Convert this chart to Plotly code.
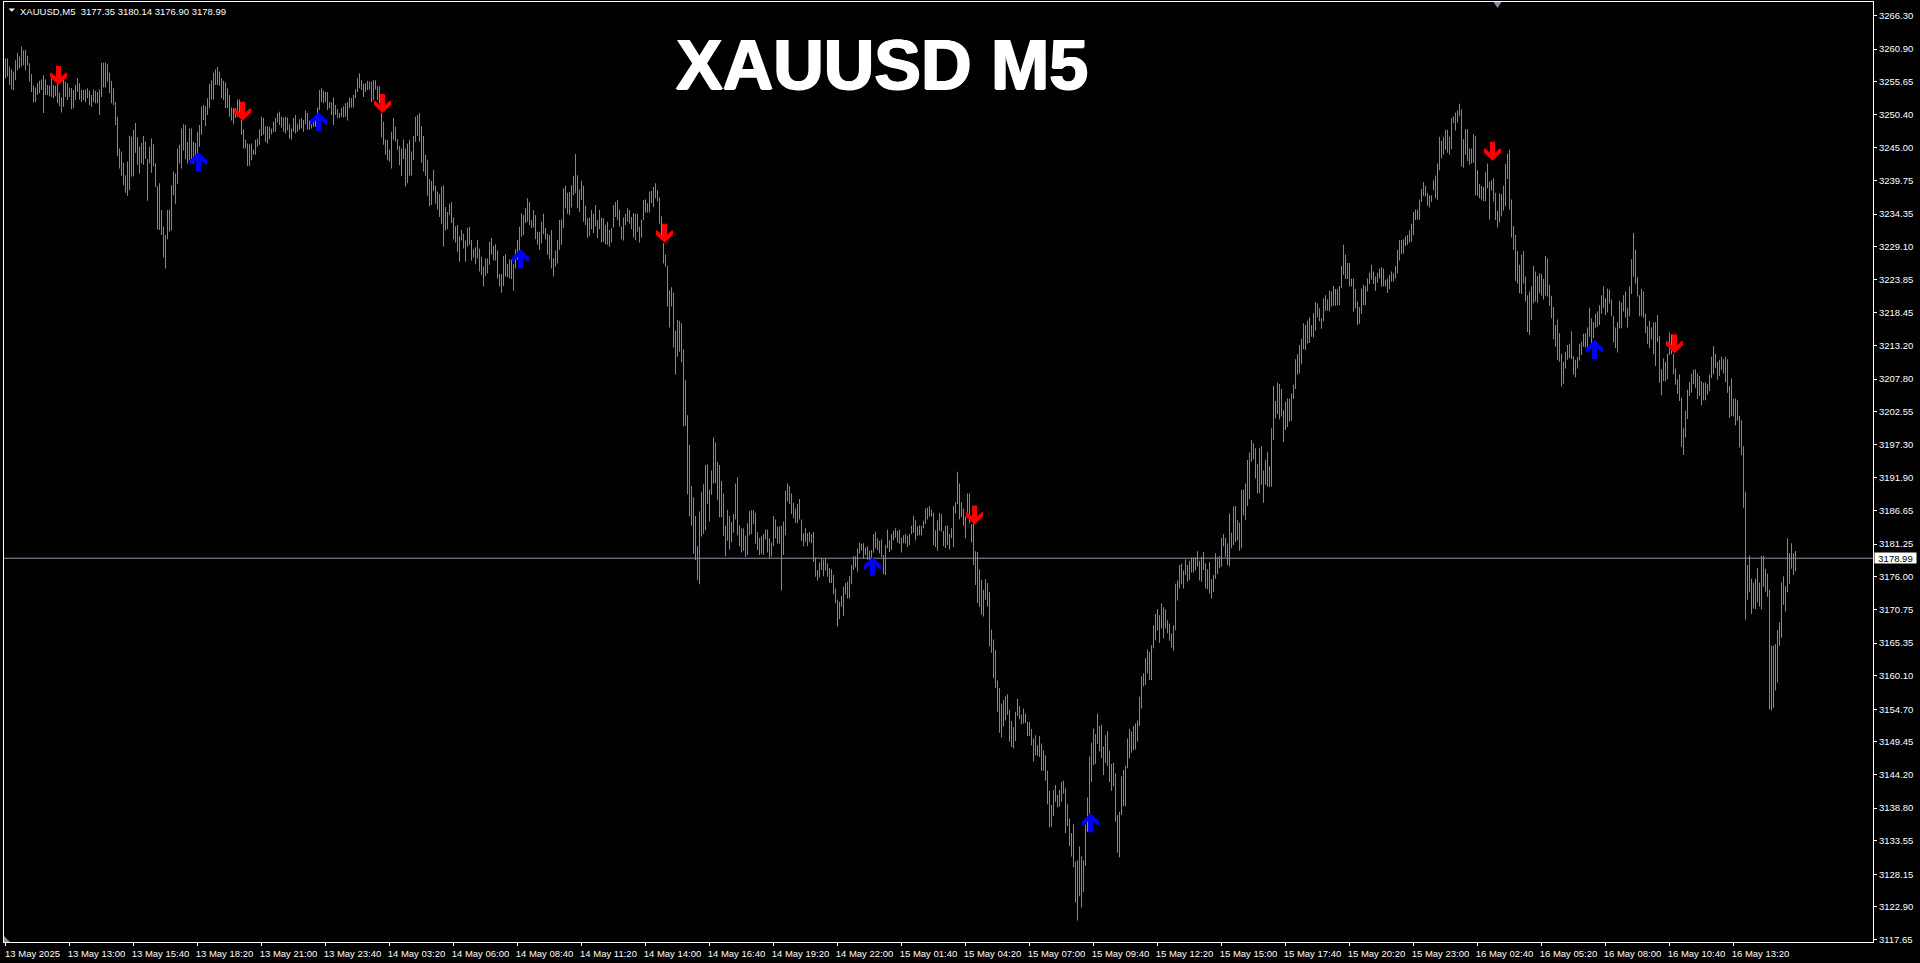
import numpy as np
import plotly.graph_objects as go

symbol_text = "XAUUSD,M5\u00a0\u00a03177.35 3180.14 3176.90 3178.99"
title_text = "XAUUSD M5"
last_price = 3178.99

bar_high = [
3259.4,3259.4,3258.1,3257.6,3257.3,3259.1,3260.3,3259.7,3261.3,3260.7,
3260.8,3259.8,3258.6,3256.9,3255.0,3254.7,3255.4,3255.8,3256.0,3256.7,
3256.0,3255.1,3255.0,3256.2,3255.1,3255.0,3255.9,3253.9,3253.1,3256.2,
3255.7,3255.4,3254.7,3254.6,3254.3,3255.1,3256.2,3255.4,3254.3,3254.3,
3254.4,3254.6,3254.2,3253.5,3254.4,3254.2,3254.0,3254.4,3258.7,3258.7,
3258.7,3258.5,3257.1,3255.8,3254.6,3252.4,3250.0,3244.9,3244.4,3242.6,
3240.6,3242.8,3246.9,3246.8,3247.9,3249.0,3246.7,3245.2,3245.8,3246.9,
3246.0,3243.2,3245.2,3246.5,3245.6,3242.5,3238.8,3239.3,3235.0,3232.3,
3231.0,3235.0,3235.1,3239.0,3241.2,3240.9,3244.9,3245.5,3248.1,3248.8,
3248.7,3246.0,3248.1,3248.1,3246.0,3245.8,3247.6,3248.7,3251.6,3251.9,
3251.7,3253.0,3255.3,3255.9,3257.1,3257.6,3258.0,3257.3,3256.2,3255.8,
3255.5,3254.6,3253.5,3251.5,3251.4,3251.4,3252.8,3252.8,3249.5,3248.0,
3246.3,3245.7,3245.6,3245.7,3244.7,3246.3,3246.5,3248.0,3250.0,3249.8,
3248.5,3248.5,3248.4,3248.1,3249.2,3249.8,3250.6,3250.8,3250.0,3249.9,
3250.0,3249.9,3248.8,3248.1,3249.8,3250.3,3248.8,3249.6,3249.8,3249.5,
3251.0,3250.6,3249.4,3249.2,3249.6,3250.3,3251.5,3254.3,3254.6,3254.2,
3254.0,3254.0,3252.4,3252.3,3253.1,3251.9,3251.2,3250.6,3251.4,3251.7,
3252.2,3252.4,3253.1,3253.0,3253.5,3254.4,3256.2,3257.0,3255.9,3255.3,
3255.4,3255.8,3255.7,3255.7,3255.9,3255.9,3255.0,3254.9,3250.6,3249.2,
3246.3,3246.3,3244.7,3247.6,3249.8,3248.4,3246.4,3245.3,3244.9,3246.3,
3244.9,3245.7,3246.3,3244.4,3246.9,3250.0,3250.3,3250.6,3248.5,3246.9,
3243.9,3243.1,3240.0,3239.7,3241.5,3238.9,3238.0,3237.6,3238.8,3239.0,
3235.5,3234.7,3236.0,3236.3,3233.8,3232.4,3232.6,3230.8,3231.8,3231.2,
3230.1,3232.1,3232.3,3230.2,3228.7,3229.0,3230.2,3228.8,3227.5,3225.9,
3227.2,3227.2,3229.9,3230.5,3229.2,3229.5,3228.5,3224.7,3224.7,3227.6,
3227.9,3226.3,3227.1,3227.0,3226.3,3228.7,3230.2,3232.3,3234.5,3234.2,
3235.3,3236.9,3236.3,3233.4,3235.0,3234.2,3231.5,3231.5,3233.1,3234.4,
3232.1,3231.2,3231.0,3231.8,3227.2,3228.5,3230.2,3233.4,3233.5,3238.5,
3238.9,3237.8,3237.9,3239.0,3240.5,3244.0,3240.6,3238.3,3239.7,3238.9,
3235.7,3233.7,3233.8,3235.0,3234.4,3235.8,3233.4,3235.0,3233.8,3233.7,
3232.6,3233.1,3231.8,3232.1,3235.8,3236.3,3236.6,3235.1,3232.3,3233.8,
3234.4,3235.3,3235.0,3233.9,3234.5,3234.4,3234.4,3232.3,3233.5,3236.6,
3236.7,3236.1,3238.0,3238.1,3238.7,3239.3,3238.2,3237.0,3234.0,3229.7,
3227.8,3226.0,3222.1,3222.6,3221.7,3215.6,3217.3,3217.2,3216.8,3212.6,
3207.6,3202.0,3197.2,3190.6,3188.8,3185.8,3180.9,3186.5,3189.6,3190.9,
3194.0,3194.1,3190.0,3193.1,3198.4,3197.6,3194.5,3194.0,3191.4,3189.4,
3184.2,3186.8,3185.8,3184.8,3186.1,3191.0,3192.0,3184.3,3183.8,3183.8,
3182.6,3184.6,3186.6,3186.7,3186.7,3186.3,3183.2,3182.3,3182.5,3182.9,
3183.6,3183.6,3182.2,3181.5,3185.8,3185.2,3184.1,3184.1,3184.2,3184.9,
3189.9,3191.0,3190.6,3189.4,3187.9,3187.0,3187.7,3188.5,3185.2,3183.0,
3183.8,3183.0,3183.2,3182.9,3183.2,3179.1,3177.1,3178.3,3179.0,3178.8,
3179.0,3178.2,3177.4,3177.2,3176.3,3174.1,3172.3,3172.0,3172.9,3174.4,
3175.0,3175.2,3176.1,3177.9,3179.3,3179.3,3180.6,3181.5,3181.3,3181.4,
3180.7,3180.9,3180.2,3180.3,3182.9,3183.2,3182.2,3181.8,3182.0,3179.5,
3181.1,3183.6,3181.9,3182.9,3183.4,3183.8,3183.4,3183.6,3182.3,3182.7,
3182.9,3182.6,3182.9,3184.2,3185.8,3185.1,3184.1,3184.3,3184.2,3185.0,
3187.0,3187.1,3187.4,3186.8,3186.3,3183.5,3185.1,3186.3,3186.1,3183.4,
3184.2,3184.3,3182.9,3183.8,3187.4,3188.0,3192.9,3191.0,3188.0,3187.0,
3185.7,3189.4,3189.4,3184.5,3184.6,3180.1,3180.0,3177.2,3175.5,3173.9,
3175.6,3175.0,3173.6,3167.5,3165.9,3164.2,3159.3,3158.1,3155.6,3156.2,
3156.8,3157.1,3154.6,3152.8,3151.8,3154.3,3156.4,3155.2,3153.8,3154.8,
3154.0,3152.7,3152.7,3151.5,3150.0,3150.5,3148.9,3150.4,3149.2,3148.1,
3147.3,3144.8,3141.6,3139.3,3141.7,3142.5,3140.9,3141.7,3143.0,3143.2,
3142.0,3139.4,3137.1,3134.8,3136.2,3130.2,3130.4,3132.6,3131.0,3130.4,
3136.1,3140.5,3147.1,3149.3,3151.6,3150.7,3154.0,3152.0,3152.2,3148.7,
3150.5,3151.2,3148.0,3145.9,3146.1,3144.4,3137.7,3138.2,3143.9,3144.9,
3145.6,3150.0,3151.5,3151.1,3152.0,3152.4,3152.9,3156.7,3160.0,3160.5,
3162.9,3164.3,3163.9,3165.0,3168.2,3170.0,3170.8,3169.8,3171.7,3171.1,
3170.8,3169.0,3168.5,3166.9,3168.2,3174.9,3175.4,3177.9,3178.1,3177.0,
3178.8,3177.9,3178.6,3179.1,3179.1,3179.2,3180.1,3178.6,3179.2,3180.0,
3178.2,3177.2,3178.4,3175.6,3176.3,3179.8,3179.1,3179.3,3182.3,3182.9,
3182.3,3181.4,3186.2,3183.1,3187.3,3187.4,3185.1,3184.7,3190.0,3190.0,
3191.0,3194.8,3196.0,3198.0,3197.5,3196.7,3194.2,3196.7,3197.0,3193.1,
3194.8,3196.1,3193.8,3199.9,3206.7,3204.3,3207.2,3207.0,3206.2,3202.8,
3204.2,3204.7,3204.7,3205.5,3206.9,3211.0,3211.8,3213.3,3214.3,3216.8,
3216.5,3217.2,3217.7,3216.5,3218.4,3220.2,3220.0,3219.2,3217.6,3220.8,
3221.3,3220.6,3222.0,3221.9,3222.8,3222.3,3222.3,3222.8,3226.0,3229.4,
3227.8,3226.5,3226.5,3224.0,3224.0,3222.3,3220.3,3219.4,3222.4,3223.0,
3222.8,3224.0,3224.9,3226.2,3225.1,3224.3,3224.9,3225.6,3225.8,3225.6,
3223.8,3224.0,3224.6,3225.1,3224.8,3226.0,3228.6,3230.2,3230.2,3230.3,
3230.8,3231.0,3231.7,3232.8,3234.7,3235.1,3235.1,3236.7,3238.4,3239.5,
3238.9,3237.8,3237.4,3237.4,3239.8,3240.5,3242.5,3246.8,3246.2,3246.8,
3247.9,3247.9,3246.8,3249.8,3250.1,3250.7,3251.0,3252.1,3251.2,3246.4,
3248.0,3248.0,3244.9,3244.9,3247.2,3246.9,3241.4,3239.2,3238.9,3238.7,
3241.1,3242.5,3239.6,3239.8,3240.1,3237.8,3234.9,3237.7,3237.6,3238.9,
3242.4,3244.1,3244.7,3236.7,3232.4,3231.0,3228.4,3226.2,3227.8,3228.4,
3224.3,3221.3,3221.9,3222.7,3226.0,3225.1,3224.4,3224.8,3224.7,3223.9,
3227.6,3227.2,3223.0,3221.2,3219.4,3216.5,3217.4,3215.2,3211.9,3210.6,
3212.2,3213.3,3213.5,3215.5,3211.5,3210.9,3211.4,3213.5,3213.8,3215.1,
3215.2,3216.1,3219.3,3217.6,3217.0,3218.3,3218.7,3219.7,3221.3,3222.7,
3220.8,3222.4,3222.2,3220.6,3217.9,3216.1,3217.0,3220.4,3220.1,3221.3,
3221.9,3219.2,3222.7,3227.1,3231.3,3228.6,3224.2,3221.3,3222.3,3221.9,
3218.3,3216.3,3217.2,3216.1,3216.9,3217.0,3218.1,3214.7,3209.4,3211.1,
3210.6,3211.9,3215.3,3215.0,3211.9,3209.5,3207.8,3208.6,3204.8,3199.9,
3202.7,3206.1,3207.3,3208.7,3209.3,3209.4,3208.7,3208.3,3207.5,3207.2,
3207.3,3207.0,3208.5,3211.4,3213.1,3211.9,3210.6,3210.9,3211.4,3211.0,
3211.4,3211.0,3206.7,3207.9,3204.6,3204.7,3204.4,3201.9,3201.2,3197.0,
3189.7,3177.9,3179.4,3175.7,3175.0,3175.7,3177.4,3175.1,3179.4,3179.4,
3177.3,3176.5,3173.9,3164.9,3164.9,3165.2,3167.4,3168.7,3175.1,3176.1,
3174.5,3182.2,3179.8,3181.4,3179.8,3180.14,
]

bar_low = [
3256.2,3256.5,3255.1,3254.4,3254.3,3255.9,3257.5,3257.8,3258.1,3258.3,
3257.5,3258.3,3255.7,3254.0,3252.3,3252.4,3253.5,3253.8,3254.3,3250.6,
3253.5,3253.5,3253.3,3253.2,3253.0,3253.3,3252.2,3251.7,3250.7,3251.6,
3253.2,3252.7,3253.2,3251.2,3251.4,3252.7,3254.0,3252.8,3252.4,3252.7,
3252.4,3253.0,3251.9,3251.6,3252.4,3252.2,3252.2,3250.3,3253.2,3254.7,
3254.7,3255.7,3253.8,3252.2,3251.9,3248.7,3243.7,3241.7,3240.5,3239.0,
3237.8,3237.3,3238.2,3240.4,3240.4,3244.2,3242.3,3240.9,3242.5,3242.3,
3243.2,3236.5,3242.5,3241.0,3242.0,3238.7,3231.9,3231.8,3231.0,3227.4,
3225.6,3230.3,3231.5,3231.7,3237.4,3236.0,3239.2,3242.5,3241.7,3244.6,
3243.2,3242.5,3243.0,3242.5,3242.5,3243.6,3244.1,3245.2,3247.1,3249.5,
3248.5,3250.3,3251.4,3252.8,3252.8,3255.1,3255.1,3255.0,3253.0,3252.7,
3251.4,3251.4,3250.0,3249.4,3248.8,3249.8,3250.0,3250.3,3247.1,3244.9,
3244.9,3242.1,3242.1,3243.0,3243.9,3243.9,3245.2,3245.5,3246.9,3247.1,
3246.0,3245.7,3246.4,3247.2,3247.5,3247.6,3249.1,3248.7,3248.3,3247.6,
3247.3,3247.8,3246.5,3246.3,3247.6,3247.3,3247.6,3247.9,3248.1,3247.6,
3248.8,3247.9,3247.9,3248.1,3248.4,3248.4,3248.1,3251.1,3252.4,3252.2,
3252.4,3251.1,3251.4,3250.3,3248.7,3250.3,3249.8,3249.8,3250.0,3249.9,
3250.0,3249.4,3251.4,3251.5,3251.5,3253.0,3254.0,3254.6,3254.3,3253.2,
3254.0,3254.3,3254.4,3252.4,3252.7,3254.4,3252.7,3252.2,3246.7,3245.5,
3243.9,3243.0,3242.8,3241.7,3246.3,3246.0,3244.7,3242.2,3240.5,3243.2,
3238.8,3239.3,3240.5,3240.5,3243.1,3246.0,3246.9,3246.0,3242.6,3241.2,
3240.5,3237.3,3235.6,3235.8,3238.1,3236.0,3235.1,3233.9,3232.8,3229.1,
3231.7,3231.9,3234.2,3232.9,3230.3,3229.8,3228.3,3226.7,3230.1,3228.8,
3226.7,3229.1,3229.4,3226.9,3227.4,3226.3,3227.2,3225.1,3224.6,3222.7,
3224.4,3224.8,3226.2,3227.8,3226.9,3226.9,3224.0,3222.7,3221.7,3222.8,
3224.3,3224.2,3224.0,3223.9,3222.0,3225.6,3227.0,3228.3,3230.7,3231.0,
3232.9,3233.1,3232.6,3232.1,3232.2,3230.3,3229.4,3228.6,3229.6,3231.1,
3230.3,3227.8,3227.1,3225.6,3224.3,3225.9,3226.4,3228.6,3229.4,3232.1,
3235.3,3234.4,3234.2,3235.4,3237.4,3237.7,3235.3,3234.7,3236.6,3233.1,
3232.6,3230.5,3230.8,3231.9,3231.3,3232.4,3230.5,3231.9,3229.8,3229.9,
3229.5,3229.4,3229.1,3229.8,3232.2,3233.9,3233.4,3232.3,3230.3,3230.1,
3232.6,3233.1,3232.8,3231.9,3230.6,3230.2,3231.5,3229.8,3230.6,3233.4,
3234.6,3234.6,3234.6,3236.1,3235.5,3236.9,3236.4,3232.8,3231.0,3226.4,
3225.9,3219.5,3216.1,3219.5,3212.9,3208.5,3211.4,3212.2,3210.5,3200.2,
3200.3,3189.3,3185.7,3184.2,3179.7,3178.7,3175.5,3174.8,3182.5,3182.9,
3183.5,3187.7,3184.9,3189.2,3191.0,3191.1,3188.4,3185.6,3185.6,3182.6,
3179.3,3181.8,3180.4,3181.5,3183.1,3185.2,3182.7,3180.9,3179.9,3180.2,
3179.2,3179.5,3182.7,3182.9,3184.5,3181.3,3180.3,3179.5,3179.7,3179.5,
3182.0,3179.9,3179.0,3179.3,3180.9,3182.2,3181.4,3181.3,3173.8,3179.5,
3182.7,3188.1,3187.7,3186.1,3185.4,3184.7,3184.6,3185.2,3181.8,3180.9,
3181.6,3180.9,3181.6,3181.4,3178.4,3176.0,3175.4,3175.9,3177.1,3176.1,
3177.0,3176.0,3175.0,3175.0,3173.2,3171.8,3168.0,3169.2,3171.2,3169.7,
3173.2,3172.5,3172.5,3174.8,3177.1,3177.5,3176.8,3179.7,3180.2,3179.0,
3179.5,3178.8,3178.2,3178.7,3179.9,3180.6,3180.3,3179.8,3179.2,3176.4,
3176.3,3180.6,3180.0,3180.3,3181.9,3182.3,3181.5,3181.3,3179.9,3181.4,
3181.4,3180.8,3181.1,3182.9,3183.1,3181.9,3182.6,3182.7,3182.7,3183.8,
3184.5,3185.2,3185.7,3185.7,3181.1,3180.8,3180.2,3183.4,3183.3,3180.9,
3180.6,3181.1,3180.4,3182.2,3180.8,3186.2,3187.7,3185.2,3185.6,3184.2,
3182.2,3185.4,3184.6,3181.5,3177.9,3174.7,3171.8,3171.2,3169.9,3169.6,
3172.3,3171.2,3164.8,3163.8,3159.7,3158.1,3154.3,3150.9,3150.2,3151.9,
3152.9,3153.8,3149.5,3148.6,3148.4,3149.6,3153.6,3153.1,3152.3,3152.4,
3152.5,3150.4,3150.4,3148.9,3146.3,3147.3,3147.2,3147.0,3144.8,3144.8,
3143.2,3139.4,3135.7,3135.8,3137.5,3139.8,3138.9,3139.0,3139.8,3141.1,
3134.8,3135.9,3132.7,3131.0,3129.3,3123.6,3120.7,3124.6,3122.8,3125.3,
3129.5,3135.0,3137.9,3143.0,3145.7,3145.9,3149.1,3147.9,3146.8,3144.1,
3146.1,3145.6,3143.0,3141.6,3142.3,3136.6,3131.6,3130.9,3137.7,3139.1,
3139.1,3145.2,3146.8,3147.7,3148.1,3148.2,3149.5,3152.0,3154.8,3158.4,
3158.6,3160.5,3159.4,3159.4,3164.5,3165.8,3167.4,3165.4,3167.7,3166.1,
3167.7,3166.9,3165.7,3164.6,3164.1,3167.4,3172.2,3174.1,3174.8,3174.1,
3176.3,3175.2,3175.5,3176.7,3176.7,3177.0,3177.6,3175.4,3175.2,3177.1,
3174.1,3174.0,3173.3,3172.5,3173.6,3175.7,3176.4,3177.4,3177.6,3180.9,
3179.2,3177.9,3177.7,3180.6,3181.1,3181.6,3181.9,3180.2,3180.6,3185.9,
3185.1,3187.4,3188.5,3194.5,3194.9,3191.8,3189.4,3189.5,3190.8,3187.9,
3190.8,3190.5,3190.5,3190.5,3198.0,3201.5,3202.2,3201.3,3201.8,3197.7,
3199.6,3200.1,3201.0,3201.1,3204.6,3206.2,3208.5,3208.7,3210.2,3212.6,
3212.5,3213.5,3213.6,3214.6,3214.5,3215.6,3217.7,3217.1,3215.9,3217.1,
3218.8,3218.8,3218.7,3219.5,3219.6,3219.6,3219.7,3219.7,3222.5,3224.6,
3223.9,3223.9,3222.7,3222.7,3218.7,3219.2,3216.5,3216.7,3218.3,3219.7,
3219.7,3221.9,3223.1,3223.8,3223.1,3222.0,3223.3,3224.0,3222.7,3222.7,
3222.7,3221.7,3222.3,3223.5,3223.5,3224.0,3224.8,3226.9,3227.9,3228.0,
3229.2,3229.4,3229.8,3229.9,3231.0,3233.4,3233.5,3233.4,3236.3,3237.3,
3237.2,3235.7,3235.4,3236.3,3238.2,3236.9,3236.6,3241.4,3243.3,3243.9,
3244.7,3244.2,3243.9,3244.8,3249.0,3247.8,3249.1,3250.1,3242.0,3241.8,
3243.9,3242.9,3242.3,3242.5,3242.6,3237.4,3237.3,3236.9,3236.7,3236.4,
3236.4,3238.5,3233.5,3238.1,3236.4,3233.4,3232.2,3233.0,3234.0,3234.9,
3235.6,3240.0,3235.1,3230.6,3228.6,3223.6,3223.2,3221.6,3221.5,3223.2,
3220.3,3215.4,3214.9,3217.3,3220.0,3220.3,3220.1,3221.6,3221.2,3220.6,
3221.2,3221.1,3219.6,3217.6,3214.2,3213.0,3210.9,3210.6,3206.6,3207.0,
3209.5,3210.9,3211.2,3211.0,3208.5,3208.1,3209.5,3210.8,3211.7,3213.0,
3212.9,3212.5,3214.6,3213.1,3214.4,3216.1,3216.2,3216.5,3218.3,3219.2,
3218.1,3218.5,3220.0,3217.9,3213.7,3212.8,3212.1,3216.0,3216.0,3218.7,
3217.7,3216.1,3217.9,3221.5,3224.3,3223.2,3221.1,3217.9,3217.9,3217.7,
3215.2,3213.5,3212.8,3214.2,3211.8,3209.9,3213.8,3207.2,3205.2,3207.5,
3207.4,3207.8,3211.7,3211.8,3208.6,3206.9,3205.4,3204.3,3196.9,3195.6,
3198.4,3201.4,3205.1,3205.6,3207.0,3206.4,3204.6,3205.1,3203.6,3204.4,
3204.4,3205.3,3205.9,3208.0,3208.6,3209.6,3207.7,3208.3,3209.3,3208.7,
3207.3,3205.6,3201.6,3201.9,3201.8,3200.4,3201.1,3196.8,3195.6,3187.1,
3169.1,3172.3,3173.5,3170.0,3170.9,3170.8,3171.9,3171.2,3170.8,3174.4,
3173.6,3172.8,3154.7,3154.5,3154.9,3157.7,3159.0,3164.9,3166.2,3171.5,
3170.4,3173.5,3174.9,3177.3,3176.3,3176.90,
]

sell_bar = [26, 118, 188, 329, 484, 743, 834]
sell_price = [3255.12, 3249.38, 3250.6, 3229.75, 3184.4, 3242.94, 3211.96]
buy_bar = [96, 156, 257, 433, 542, 794]
buy_price = [3244.29, 3250.72, 3228.69, 3179.2, 3137.95, 3214.1]

price_ticks = [3266.30,3260.90,3255.65,3250.40,3245.00,3239.75,3234.35,3229.10,3223.85,3218.45,
               3213.20,3207.80,3202.55,3197.30,3191.90,3186.65,3181.25,3176.00,3170.75,3165.35,
               3160.10,3154.70,3149.45,3144.20,3138.80,3133.55,3128.15,3122.90,3117.65]
time_labels = ["13 May 2025","13 May 13:00","13 May 15:40","13 May 18:20","13 May 21:00","13 May 23:40",
               "14 May 03:20","14 May 06:00","14 May 08:40","14 May 11:20","14 May 14:00","14 May 16:40",
               "14 May 19:20","14 May 22:00","15 May 01:40","15 May 04:20","15 May 07:00","15 May 09:40",
               "15 May 12:20","15 May 15:00","15 May 17:40","15 May 20:20","15 May 23:00","16 May 02:40",
               "16 May 05:20","16 May 08:00","16 May 10:40","16 May 13:20"]
time_bars = [32 * k for k in range(len(time_labels))]

high = np.array(bar_high)
low = np.array(bar_low)
idx = np.arange(len(high))

BAR_GREEN = "#00e600"
FONT = "Liberation Sans"

fig = go.Figure(go.Bar(x=idx, y=high - low, base=low, width=0.5,
                       marker=dict(color=BAR_GREEN, line=dict(width=0)),
                       hoverinfo="skip"))

DOWN = "M1,0 L-7.5,8 L-7.5,12 L-6.5,12.5 L-1.5,8 L-1.5,19 L3.5,19 L3.5,8 L8.5,12.5 L9.5,12 L9.5,8 Z"
UP = "M1,0 L-7.5,-8 L-7.5,-12 L-6.5,-12.5 L-1.5,-8 L-1.5,-19 L3.5,-19 L3.5,-8 L8.5,-12.5 L9.5,-12 L9.5,-8 Z"
shapes = []
for b, p in zip(sell_bar, sell_price):
    shapes.append(dict(type="path", xref="x", yref="y", xsizemode="pixel", ysizemode="pixel",
                       xanchor=b, yanchor=p, path=DOWN, fillcolor="#ff0000", line=dict(width=0)))
for b, p in zip(buy_bar, buy_price):
    shapes.append(dict(type="path", xref="x", yref="y", xsizemode="pixel", ysizemode="pixel",
                       xanchor=b, yanchor=p, path=UP, fillcolor="#0000ff", line=dict(width=0)))
shapes.append(dict(type="line", xref="paper", x0=0, x1=1, yref="y", y0=last_price, y1=last_price,
                   line=dict(color="#8c96a6", width=1), layer="below"))
shapes.append(dict(type="path", xref="x", yref="paper", xsizemode="pixel", ysizemode="pixel",
                   xanchor=746, yanchor=1, path="M-4,0 L4,0 L0,-6 Z", fillcolor="#7f8fa8", line=dict(width=0)))
shapes.append(dict(type="path", xref="paper", yref="paper", xsizemode="pixel", ysizemode="pixel",
                   xanchor=0, yanchor=0, path="M0,0 L6,0 L0,6 Z", fillcolor="#7f8fa8", line=dict(width=0)))
shapes.append(dict(type="path", xref="paper", yref="paper", xsizemode="pixel", ysizemode="pixel",
                   xanchor=0, yanchor=1, path="M4.5,-6.5 L11,-6.5 L7.75,-9.8 Z", fillcolor="#ffffff", line=dict(width=0)))

annotations = [
    dict(text=title_text, xref="paper", yref="paper", x=0.4698, y=0.933, showarrow=False,
         xanchor="center", yanchor="middle",
         font=dict(family="Liberation Sans", size=70, color="#ffffff", weight=700,
                   shadow="1px 0 0 #fff, -1px 0 0 #fff, 0 0.6px 0 #fff")),
    dict(text=symbol_text, xref="paper", yref="paper", x=0, y=1, xshift=14, yshift=-2, showarrow=False,
         xanchor="left", yanchor="top", font=dict(family=FONT, size=9.5, color="#ffffff")),
    dict(text=f"{last_price:.2f}", xref="paper", yref="y", x=1, y=last_price, xshift=1, showarrow=False,
         xanchor="left", yanchor="middle", width=41, height=10, bgcolor="#ffffff", borderpad=0,
         font=dict(family=FONT, size=9.5, color="#000000")),
]

fig.update_layout(
    width=1920, height=963,
    margin=dict(l=4, r=47, t=2, b=21, autoexpand=False),
    paper_bgcolor="#000000", plot_bgcolor="#000000",
    showlegend=False, shapes=shapes, annotations=annotations,
    xaxis=dict(range=[-0.75, 933.75], tickmode="array", tickvals=time_bars, ticktext=time_labels,
               ticks="outside", ticklen=3, tickcolor="#ffffff", tickwidth=1, showgrid=False, zeroline=False,
               showline=True, linecolor="#ffffff", linewidth=1, mirror=True, ticklabelshift=27,
               tickangle=0, tickfont=dict(family=FONT, size=9.5, color="#ffffff")),
    yaxis=dict(range=[3117.25, 3268.47], side="right", tickmode="array", tickvals=price_ticks,
               ticktext=[f"{v:.2f}" for v in price_ticks], ticks="outside", ticklen=3, tickcolor="#ffffff",
               tickwidth=1, showgrid=False, zeroline=False, showline=True, linecolor="#ffffff", linewidth=1,
               mirror=True, tickfont=dict(family=FONT, size=9.5, color="#ffffff")),
)

fig.write_html("out.html", config=dict(displayModeBar=False),
               post_script="document.body.style.margin='0';document.body.style.background='#000';document.body.style.overflow='hidden';")
